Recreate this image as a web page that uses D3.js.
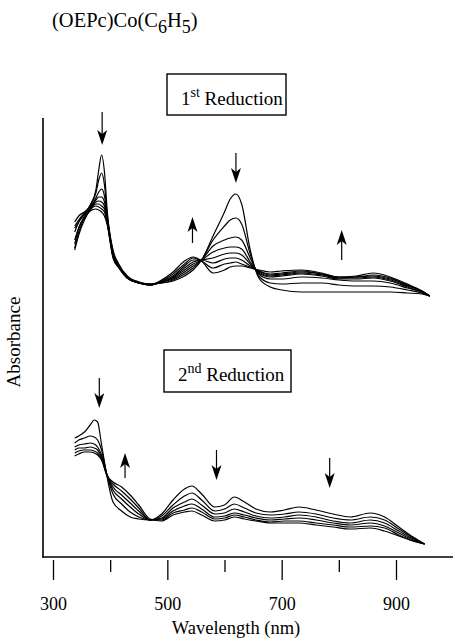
<!DOCTYPE html>
<html>
<head>
<meta charset="utf-8">
<script src="https://cdn.jsdelivr.net/npm/d3@7"></script>
<style>
  body { margin: 0; background: #fff; }
  svg { display: block; font-family: "Liberation Serif", "Times New Roman", serif; }
</style>
</head>
<body>
<svg id="chart" width="453" height="641"></svg>
<script>
// wavelength grid (nm) for the 1st reduction spectra
const wlFirst = [338,345,355,365,375,380,385,390,395,405,415,430,450,470,490,510,530,545,560,580,600,610,620,630,645,660,680,700,735,770,800,830,860,890,920,945,959];

// absorbance (arb. units, stacked), initial -> final
const firstReduction = [
  [3.25,3.35,3.43,3.52,3.67,3.87,4.02,3.85,3.45,3.07,2.93,2.81,2.75,2.73,2.74,2.76,2.81,2.87,2.97,3.21,3.45,3.58,3.63,3.53,3.07,2.79,2.70,2.67,2.65,2.65,2.65,2.65,2.65,2.65,2.64,2.63,2.61],
  [3.31,3.37,3.44,3.51,3.64,3.77,3.84,3.72,3.42,3.05,2.92,2.80,2.75,2.73,2.74,2.77,2.83,2.89,2.97,3.17,3.31,3.37,3.39,3.33,3.03,2.81,2.74,2.73,2.74,2.74,2.72,2.71,2.71,2.70,2.67,2.64,2.61],
  [3.13,3.29,3.41,3.49,3.59,3.65,3.68,3.61,3.39,3.04,2.91,2.80,2.74,2.73,2.75,2.78,2.85,2.91,2.97,3.11,3.17,3.19,3.20,3.17,2.99,2.83,2.78,2.78,2.80,2.79,2.77,2.76,2.76,2.74,2.69,2.65,2.61],
  [3.35,3.41,3.45,3.50,3.57,3.60,3.60,3.55,3.37,3.03,2.91,2.79,2.74,2.72,2.75,2.79,2.87,2.93,2.97,3.05,3.09,3.10,3.10,3.08,2.95,2.84,2.80,2.81,2.83,2.81,2.78,2.78,2.79,2.76,2.70,2.65,2.61],
  [3.09,3.25,3.39,3.48,3.55,3.56,3.55,3.51,3.35,3.02,2.90,2.79,2.74,2.72,2.75,2.80,2.89,2.95,2.97,2.99,3.03,3.04,3.04,3.02,2.93,2.85,2.81,2.82,2.84,2.82,2.79,2.79,2.80,2.77,2.71,2.66,2.61],
  [3.29,3.35,3.43,3.48,3.53,3.53,3.51,3.48,3.34,3.01,2.90,2.79,2.74,2.72,2.76,2.81,2.91,2.97,2.97,2.94,2.98,2.99,2.99,2.97,2.91,2.86,2.82,2.83,2.85,2.83,2.79,2.80,2.81,2.78,2.72,2.66,2.61],
  [3.07,3.22,3.37,3.47,3.51,3.50,3.48,3.45,3.33,3.00,2.90,2.79,2.74,2.72,2.76,2.83,2.93,2.99,2.96,2.89,2.93,2.94,2.95,2.93,2.90,2.86,2.83,2.84,2.86,2.83,2.80,2.80,2.82,2.79,2.72,2.66,2.61],
  [3.17,3.29,3.39,3.46,3.48,3.47,3.45,3.41,3.32,2.99,2.89,2.79,2.74,2.72,2.77,2.85,2.96,3.00,2.96,2.84,2.87,2.90,2.91,2.91,2.89,2.87,2.85,2.86,2.87,2.84,2.80,2.81,2.84,2.80,2.73,2.66,2.61]
];

// wavelength grid (nm) for the 2nd reduction spectra
const wlSecond = [338,345,355,365,372,378,385,394,405,420,435,450,470,490,510,530,543,560,583,600,617,635,655,680,705,730,760,790,820,855,880,905,930,950];

const secondReduction = [
  [1.19,1.21,1.25,1.32,1.37,1.35,1.12,0.82,0.55,0.46,0.40,0.38,0.37,0.43,0.57,0.68,0.71,0.63,0.50,0.52,0.60,0.55,0.48,0.45,0.47,0.50,0.47,0.43,0.40,0.44,0.40,0.30,0.20,0.13],
  [1.14,1.17,1.19,1.21,1.20,1.17,1.07,0.83,0.63,0.53,0.45,0.40,0.37,0.41,0.52,0.61,0.64,0.57,0.46,0.48,0.53,0.49,0.44,0.42,0.43,0.45,0.43,0.39,0.37,0.40,0.37,0.28,0.19,0.13],
  [1.10,1.12,1.13,1.14,1.13,1.10,1.02,0.83,0.67,0.58,0.50,0.43,0.37,0.39,0.49,0.55,0.58,0.52,0.43,0.44,0.48,0.45,0.41,0.39,0.40,0.42,0.40,0.36,0.34,0.37,0.34,0.26,0.18,0.13],
  [1.07,1.09,1.09,1.10,1.09,1.07,1.00,0.83,0.70,0.62,0.54,0.46,0.37,0.38,0.46,0.51,0.53,0.48,0.40,0.41,0.44,0.42,0.39,0.37,0.38,0.39,0.37,0.34,0.32,0.34,0.31,0.24,0.17,0.13],
  [1.04,1.06,1.07,1.07,1.06,1.04,0.98,0.82,0.73,0.66,0.58,0.49,0.37,0.37,0.44,0.47,0.49,0.45,0.38,0.39,0.42,0.40,0.37,0.35,0.36,0.36,0.34,0.32,0.30,0.31,0.29,0.22,0.16,0.13],
  [1.01,1.03,1.05,1.05,1.04,1.02,0.97,0.82,0.75,0.70,0.62,0.52,0.38,0.36,0.42,0.45,0.46,0.42,0.36,0.37,0.40,0.38,0.36,0.34,0.34,0.34,0.32,0.30,0.28,0.29,0.26,0.21,0.16,0.13]
];

const xTicks = [300, 400, 500, 600, 700, 800, 900];
const xLabels = [300, 500, 700, 900];

// change arrows: wavelength, tail absorbance, tip absorbance
const arrows = [
  { wl: 386, from: 4.45, to: 4.12 },
  { wl: 544, from: 3.14, to: 3.40 },
  { wl: 620, from: 4.04, to: 3.74 },
  { wl: 805, from: 2.97, to: 3.27 },
  { wl: 381, from: 1.79, to: 1.49 },
  { wl: 426, from: 0.79, to: 1.04 },
  { wl: 586, from: 1.07, to: 0.77 },
  { wl: 784, from: 0.99, to: 0.69 }
];

const svg = d3.select("#chart");

const x = d3.scaleLinear().domain([300, 900]).range([53, 396]);
const y = d3.scaleLinear().domain([0, 4.4]).range([557, 117]);

// axes frame
svg.append("line")
  .attr("x1", 43).attr("x2", 43)
  .attr("y1", 118).attr("y2", 557.5)
  .attr("stroke", "#000").attr("stroke-width", 1.6);
svg.append("line")
  .attr("x1", 42.2).attr("x2", 453)
  .attr("y1", 557).attr("y2", 557)
  .attr("stroke", "#000").attr("stroke-width", 1.6);

// bottom ticks, detached below the frame
const xAxis = svg.append("g")
  .attr("transform", "translate(0,560)")
  .call(d3.axisBottom(x)
    .tickValues(xTicks)
    .tickSize(20)
    .tickPadding(17)
    .tickFormat((d) => (xLabels.includes(d) ? d : "")));
xAxis.select(".domain").remove();
xAxis.selectAll(".tick line")
  .attr("stroke-width", 1.3)
  .attr("y2", (d) => (xLabels.includes(d) ? 20 : 12));
xAxis.selectAll(".tick text")
  .attr("font-family", "Liberation Serif")
  .attr("font-size", 18)
  .attr("fill", "#000");

svg.append("text")
  .attr("x", 236).attr("y", 634)
  .attr("text-anchor", "middle")
  .attr("font-size", 18.5)
  .text("Wavelength (nm)");

svg.append("text")
  .attr("transform", "translate(20,342) rotate(-90)")
  .attr("text-anchor", "middle")
  .attr("font-size", 19)
  .text("Absorbance");

// title with subscripts
const title = svg.append("text").attr("x", 52).attr("y", 27).attr("font-size", 20.5);
title.append("tspan").text("(OEPc)Co(C");
title.append("tspan").attr("dy", 6).attr("font-size", 18).text("6");
title.append("tspan").attr("dy", -6).text("H");
title.append("tspan").attr("dy", 6).attr("font-size", 18).text("5");
title.append("tspan").attr("dy", -6).text(")");

// boxed labels
function boxLabel(x0, y0, w, h, num, sup, baseY) {
  svg.append("rect")
    .attr("x", x0).attr("y", y0).attr("width", w).attr("height", h)
    .attr("fill", "none").attr("stroke", "#000").attr("stroke-width", 1.4);
  const t = svg.append("text").attr("x", x0 + 14).attr("y", baseY).attr("font-size", 19);
  t.append("tspan").text(num);
  t.append("tspan").attr("dy", -8).attr("font-size", 14).text(sup);
  t.append("tspan").attr("dy", 8).text(" Reduction");
}
boxLabel(167, 74, 119, 41, "1", "st", 105);
boxLabel(164, 350, 127, 42, "2", "nd", 381);

// spectra
const line = (wl) => d3.line()
  .x((d, i) => x(wl[i]))
  .y((d) => y(d))
  .curve(d3.curveMonotoneX);

svg.append("g").selectAll("path")
  .data(firstReduction)
  .join("path")
  .attr("d", line(wlFirst))
  .attr("fill", "none").attr("stroke", "#000").attr("stroke-width", 1.2);

svg.append("g").selectAll("path")
  .data(secondReduction)
  .join("path")
  .attr("d", line(wlSecond))
  .attr("fill", "none").attr("stroke", "#000").attr("stroke-width", 1.2);

// arrows
const ag = svg.append("g").selectAll("g").data(arrows).join("g");
ag.append("line")
  .attr("x1", (d) => x(d.wl)).attr("x2", (d) => x(d.wl))
  .attr("y1", (d) => y(d.from))
  .attr("y2", (d) => y(d.to) + (d.to > d.from ? 9 : -9))
  .attr("stroke", "#000").attr("stroke-width", 1.2);
ag.append("path")
  .attr("d", (d) => {
    const px = x(d.wl), tip = y(d.to);
    const s = d.to > d.from ? 1 : -1; // pointing up or down
    return `M${px},${tip} L${px - 5},${tip + s * 15} L${px},${tip + s * 11} L${px + 5},${tip + s * 15} Z`;
  })
  .attr("fill", "#000");
</script>
</body>
</html>
